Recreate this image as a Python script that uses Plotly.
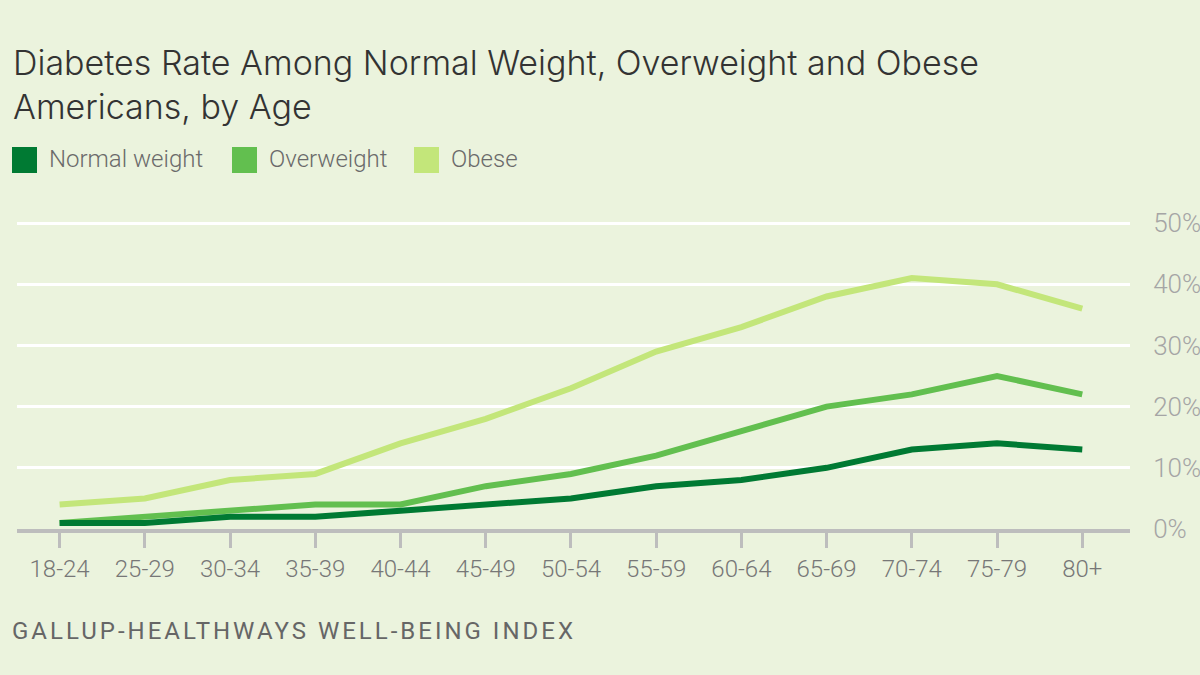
import plotly.graph_objects as go

ages = ["18-24", "25-29", "30-34", "35-39", "40-44", "45-49", "50-54",
        "55-59", "60-64", "65-69", "70-74", "75-79", "80+"]
normal_weight = [1, 1, 2, 2, 3, 4, 5, 7, 8, 10, 13, 14, 13]
overweight = [1, 2, 3, 4, 4, 7, 9, 12, 16, 20, 22, 25, 22]
obese = [4, 5, 8, 9, 14, 18, 23, 29, 33, 38, 41, 40, 36]
y_ticks = [0, 10, 20, 30, 40, 50]
y_tick_labels = ["0%", "10%", "20%", "30%", "40%", "50%"]

series_names = ["Normal weight", "Overweight", "Obese"]
series_values = [normal_weight, overweight, obese]
colors = ["#007a33", "#62bf4f", "#c3e67a"]

BG = "#ebf3dd"
FONT = "Roboto"
TITLE_FONT = "Inter"

W, H = 1200, 675
L, R, T, B = 17, 70, 220, 146
PW, PH = W - L - R, H - T - B


def px(x):
    return (x - L) / PW


def py(y):
    return (H - B - y) / PH


fig = go.Figure()
x_idx = list(range(len(ages)))
for name, vals, col in reversed(list(zip(series_names, series_values, colors))):
    fig.add_trace(go.Scatter(
        x=x_idx, y=vals, name=name, mode="lines",
        line=dict(color=col, width=6, shape="linear"),
        showlegend=False, hoverinfo="x+y+name",
    ))

fig.update_layout(
    width=W, height=H,
    paper_bgcolor=BG, plot_bgcolor=BG,
    margin=dict(l=L, r=R, t=T, b=B, autoexpand=False),
    font=dict(family=FONT),
    showlegend=False,
    xaxis=dict(
        range=[-0.5, 12.56], tickmode="array", tickvals=x_idx, ticktext=ages,
        showgrid=False, zeroline=False, automargin=False,
        showline=True, linecolor="#bdbdbd", linewidth=4,
        ticks="outside", ticklen=15, tickwidth=3, tickcolor="#bdbdbd",
        tickfont=dict(size=24, color="#777777", family=FONT, weight=300),
        fixedrange=True,
    ),
    yaxis=dict(
        range=[0, 50.5], side="right", tickmode="array", tickvals=y_ticks,
        ticktext=y_tick_labels, automargin=False,
        showgrid=True, gridcolor="#ffffff", gridwidth=3, zeroline=False,
        ticks="outside", ticklen=17, tickcolor="rgba(0,0,0,0)",
        tickfont=dict(size=26, color="#a5a5a5", family=FONT, weight=300),
        fixedrange=True,
    ),
)

# Title
fig.add_annotation(
    text="Diabetes Rate Among Normal Weight, Overweight and Obese<br>Americans, by Age",
    xref="paper", yref="paper", x=px(11), y=py(40),
    xanchor="left", yanchor="top", align="left", showarrow=False,
    font=dict(size=34, color="#333333", family=TITLE_FONT, weight=300),
)

# Legend (swatch squares + labels)
legend_x = [12, 232, 414]
for name, col, lx in zip(series_names, colors, legend_x):
    fig.add_shape(type="rect", xref="paper", yref="paper",
                  x0=px(lx), x1=px(lx + 25),
                  y0=py(173), y1=py(147),
                  fillcolor=col, line=dict(width=0))
    fig.add_annotation(text=name, xref="paper", yref="paper",
                       x=px(lx + 35), y=py(159),
                       xanchor="left", yanchor="middle", showarrow=False,
                       font=dict(size=24, color="#6a6a6a", family=FONT, weight=300))

# Source
fig.add_annotation(
    text='<span style="letter-spacing:3px">GALLUP-HEALTHWAYS WELL-BEING INDEX</span>',
    xref="paper", yref="paper", x=px(10), y=py(631),
    xanchor="left", yanchor="middle", showarrow=False,
    font=dict(size=24, color="#666666", family=FONT),
)

fig.write_html("out.html")
